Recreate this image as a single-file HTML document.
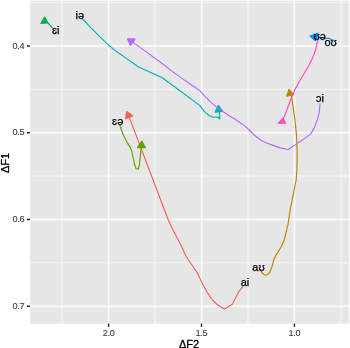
<!DOCTYPE html>
<html><head><meta charset="utf-8"><style>
html,body{margin:0;padding:0;background:#fff;width:350px;height:348px;overflow:hidden}
svg{display:block;will-change:transform;font-family:"Liberation Sans",sans-serif}
</style></head><body>
<svg width="350" height="348" viewBox="0 0 350 348">
<defs><filter id="bl" x="0" y="0" width="350" height="348" filterUnits="userSpaceOnUse" color-interpolation-filters="sRGB"><feConvolveMatrix order="3" kernelMatrix="0.0144 0.0912 0.0144 0.0912 0.5776 0.0912 0.0144 0.0912 0.0144" edgeMode="duplicate"/></filter></defs><g filter="url(#bl)"><rect width="350" height="348" fill="#fff"/>
<rect x="30" y="0.7" width="319.2" height="323.0" fill="#E6E6E6"/>
<line x1="30" x2="349.2" y1="2.63" y2="2.63" stroke="#fff" stroke-width="0.71"/>
<line x1="30" x2="349.2" y1="89.36" y2="89.36" stroke="#fff" stroke-width="0.71"/>
<line x1="30" x2="349.2" y1="176.09" y2="176.09" stroke="#fff" stroke-width="0.71"/>
<line x1="30" x2="349.2" y1="262.82" y2="262.82" stroke="#fff" stroke-width="0.71"/>
<line y1="0.7" y2="323.7" x1="62.15" x2="62.15" stroke="#fff" stroke-width="0.71"/>
<line y1="0.7" y2="323.7" x1="155.05" x2="155.05" stroke="#fff" stroke-width="0.71"/>
<line y1="0.7" y2="323.7" x1="247.95" x2="247.95" stroke="#fff" stroke-width="0.71"/>
<line y1="0.7" y2="323.7" x1="340.85" x2="340.85" stroke="#fff" stroke-width="0.71"/>
<line x1="30" x2="349.2" y1="46.00" y2="46.00" stroke="#fff" stroke-width="1.42"/>
<line x1="30" x2="349.2" y1="132.73" y2="132.73" stroke="#fff" stroke-width="1.42"/>
<line x1="30" x2="349.2" y1="219.46" y2="219.46" stroke="#fff" stroke-width="1.42"/>
<line x1="30" x2="349.2" y1="306.19" y2="306.19" stroke="#fff" stroke-width="1.42"/>
<line y1="0.7" y2="323.7" x1="108.60" x2="108.60" stroke="#fff" stroke-width="1.42"/>
<line y1="0.7" y2="323.7" x1="201.50" x2="201.50" stroke="#fff" stroke-width="1.42"/>
<line y1="0.7" y2="323.7" x1="294.40" x2="294.40" stroke="#fff" stroke-width="1.42"/>
</g>
<line x1="26.9" x2="30" y1="46.00" y2="46.00" stroke="#212121" stroke-width="1.42"/>
<line x1="26.9" x2="30" y1="132.73" y2="132.73" stroke="#212121" stroke-width="1.42"/>
<line x1="26.9" x2="30" y1="219.46" y2="219.46" stroke="#212121" stroke-width="1.42"/>
<line x1="26.9" x2="30" y1="306.19" y2="306.19" stroke="#212121" stroke-width="1.42"/>
<line y1="323.7" y2="326.9" x1="108.60" x2="108.60" stroke="#212121" stroke-width="1.42"/>
<line y1="323.7" y2="326.9" x1="201.50" x2="201.50" stroke="#212121" stroke-width="1.42"/>
<line y1="323.7" y2="326.9" x1="294.40" x2="294.40" stroke="#212121" stroke-width="1.42"/>
<polyline points="243.10,285.80 238.10,293.00 232.30,304.20 224.40,309.10 217.10,304.50 211.90,299.30 206.70,291.60 201.60,282.10 197.20,272.60 191.20,264.00 186.00,256.20 180.90,245.00 173.00,229.90 168.30,220.00 129.30,117.40" fill="none" stroke="#F66057" stroke-width="1.15" stroke-linejoin="round"/>
<polygon points="126.68,111.38 125.63,118.65 132.90,115.97" fill="#F66057" stroke="#F66057" stroke-width="1.15" stroke-linejoin="round"/>
<polyline points="260.00,269.30 262.00,272.80 264.60,275.00 267.00,274.90 269.50,272.80 272.20,266.10 273.70,259.80 276.10,255.10 280.90,247.20 284.00,240.80 286.20,232.00 288.00,224.40 290.10,210.30 292.10,200.20 294.10,190.20 296.10,180.10 296.80,172.00 297.10,160.00 297.10,151.30 296.50,135.20 295.10,121.20 293.10,107.10 291.50,96.00" fill="none" stroke="#C28200" stroke-width="1.15" stroke-linejoin="round"/>
<polygon points="289.03,89.30 286.74,96.26 293.31,94.64" fill="#C28200" stroke="#C28200" stroke-width="1.15" stroke-linejoin="round"/>
<polyline points="119.70,124.70 121.30,129.50 123.70,135.80 126.80,142.10 130.00,146.90 131.60,150.80 133.20,157.90 134.70,165.00 136.30,169.00 138.40,169.00 139.50,164.20 140.30,156.30 141.10,149.20 141.40,147.50" fill="none" stroke="#679D00" stroke-width="1.15" stroke-linejoin="round"/>
<polygon points="141.79,141.00 137.48,147.61 145.53,147.70" fill="#679D00" stroke="#679D00" stroke-width="1.15" stroke-linejoin="round"/>
<polyline points="52.80,28.10 48.00,23.00" fill="none" stroke="#00B051" stroke-width="1.15" stroke-linejoin="round"/>
<polygon points="44.59,17.10 40.87,23.49 47.92,22.81" fill="#00B051" stroke="#00B051" stroke-width="1.15" stroke-linejoin="round"/>
<polyline points="82.30,18.50 89.50,26.40 96.70,33.60 103.90,40.70 108.90,45.30 113.90,49.60 119.70,53.70 125.00,57.40 138.50,67.00 162.30,77.80 200.00,105.60 201.60,108.10 205.20,112.40 208.80,115.30 212.60,117.20 217.80,117.00 219.80,119.10 219.40,111.50" fill="none" stroke="#00B1B7" stroke-width="1.15" stroke-linejoin="round"/>
<polygon points="218.41,105.40 215.06,112.09 222.52,111.32" fill="#00B1B7" stroke="#00B1B7" stroke-width="1.15" stroke-linejoin="round"/>
<polyline points="335.00,41.50 333.40,40.30 331.00,39.30 328.60,38.20 325.00,38.40 316.40,36.90" fill="none" stroke="#0098FF" stroke-width="1.15" stroke-linejoin="round"/>
<polygon points="310.00,36.03 318.06,33.04 315.45,40.71" fill="#0098FF" stroke="#0098FF" stroke-width="1.15" stroke-linejoin="round"/>
<polyline points="320.10,103.10 319.20,112.40 317.30,119.90 314.50,127.40 310.80,133.90 302.40,140.10 297.00,143.60 294.90,145.10 288.30,149.50 280.00,147.90 272.50,145.10 266.00,142.80 260.90,140.20 254.50,135.20 248.70,129.50 243.70,125.10 234.40,118.70 227.20,114.40 220.00,109.50 216.00,106.60 210.20,101.60 204.50,95.90 199.60,90.40 185.00,80.60 171.00,70.40 162.40,63.80 146.00,51.60 132.90,42.40" fill="none" stroke="#BA67FF" stroke-width="1.15" stroke-linejoin="round"/>
<polygon points="127.47,38.71 135.12,39.09 130.52,45.50" fill="#BA67FF" stroke="#BA67FF" stroke-width="1.15" stroke-linejoin="round"/>
<polyline points="318.30,38.70 316.80,44.30 315.60,50.00 312.30,58.60 308.70,65.80 304.40,73.00 300.10,80.20 295.70,88.10 292.20,96.00 289.00,104.00 286.40,111.10 284.30,116.50 283.00,119.00" fill="none" stroke="#FF4BC0" stroke-width="1.15" stroke-linejoin="round"/>
<polygon points="278.19,123.13 285.53,123.30 283.05,118.09" fill="#FF4BC0" stroke="#FF4BC0" stroke-width="1.15" stroke-linejoin="round"/>
<text x="245.00" y="286.10" text-anchor="middle" font-size="11" fill="#000" stroke="#000" stroke-width="0.25">ai</text>
<text x="258.50" y="270.50" text-anchor="middle" font-size="11" fill="#000" stroke="#000" stroke-width="0.25">aʊ</text>
<text x="117.70" y="125.00" text-anchor="middle" font-size="11" fill="#000" stroke="#000" stroke-width="0.25">ɛə</text>
<text x="55.75" y="33.70" text-anchor="middle" font-size="11" fill="#000" stroke="#000" stroke-width="0.25">ɛi</text>
<text x="79.75" y="18.80" text-anchor="middle" font-size="11" fill="#000" stroke="#000" stroke-width="0.25">iə</text>
<text x="319.90" y="102.30" text-anchor="middle" font-size="11" fill="#000" stroke="#000" stroke-width="0.25">ɔi</text>
<text x="319.70" y="40.30" text-anchor="middle" font-size="11" fill="#000" stroke="#000" stroke-width="0.25">ʊə</text>
<text x="330.70" y="46.10" text-anchor="middle" font-size="11" fill="#000" stroke="#000" stroke-width="0.25">oʊ</text>
<text x="24.3" y="48.60" text-anchor="end" font-size="9.2" fill="#383838" stroke="#383838" stroke-width="0.1" letter-spacing="-0.3">0.4</text>
<text x="24.3" y="135.33" text-anchor="end" font-size="9.2" fill="#383838" stroke="#383838" stroke-width="0.1" letter-spacing="-0.3">0.5</text>
<text x="24.3" y="222.06" text-anchor="end" font-size="9.2" fill="#383838" stroke="#383838" stroke-width="0.1" letter-spacing="-0.3">0.6</text>
<text x="24.3" y="308.79" text-anchor="end" font-size="9.2" fill="#383838" stroke="#383838" stroke-width="0.1" letter-spacing="-0.3">0.7</text>
<text x="108.60" y="335.5" text-anchor="middle" font-size="9.2" fill="#383838" stroke="#383838" stroke-width="0.1" letter-spacing="-0.3">2.0</text>
<text x="201.50" y="335.5" text-anchor="middle" font-size="9.2" fill="#383838" stroke="#383838" stroke-width="0.1" letter-spacing="-0.3">1.5</text>
<text x="294.40" y="335.5" text-anchor="middle" font-size="9.2" fill="#383838" stroke="#383838" stroke-width="0.1" letter-spacing="-0.3">1.0</text>
<text x="189" y="347.6" text-anchor="middle" font-size="11" fill="#000" stroke="#000" stroke-width="0.3">ΔF2</text>
<text transform="translate(9.3,163) rotate(-90)" x="0" y="0" text-anchor="middle" font-size="11" fill="#000" stroke="#000" stroke-width="0.3">ΔF1</text>
</svg>
</body></html>
